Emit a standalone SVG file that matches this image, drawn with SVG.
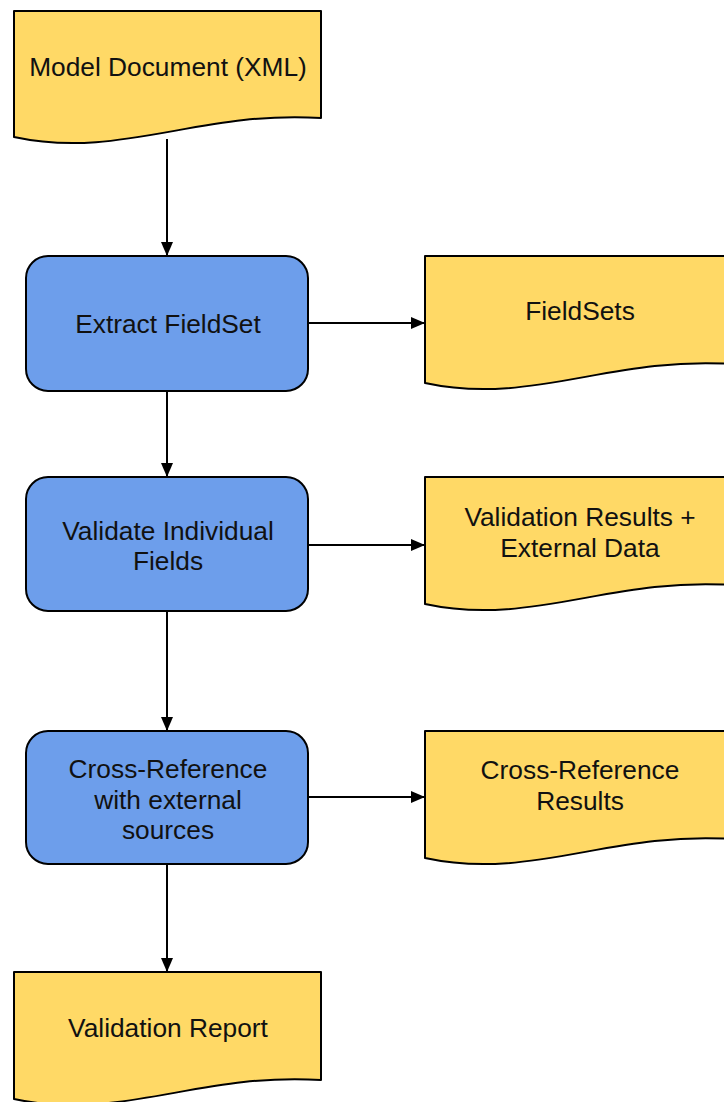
<svg xmlns="http://www.w3.org/2000/svg" width="724" height="1102" viewBox="0 0 724 1102">
  <style>
    .doc { fill: #ffd966; stroke: #000; stroke-width: 2; stroke-linejoin: round; }
    .proc { fill: #6d9eeb; stroke: #000; stroke-width: 2; }
    .label { font-family: "Liberation Sans", Arial, sans-serif; font-size: 26.3px; fill: #111; text-anchor: middle; }
    .edge { stroke: #000; stroke-width: 2; fill: none; marker-end: url(#arrow); }
  </style>
  <defs>
    <marker id="arrow" viewBox="0 0 14 12" refX="14" refY="6" markerWidth="14" markerHeight="12" markerUnits="userSpaceOnUse" orient="auto">
      <path d="M0,0 L14,6 L0,12 Z" fill="#000"/>
    </marker>
  </defs>
  <rect width="724" height="1102" fill="#fff"/>

  <g id="connectors">
    <line class="edge" x1="167" y1="139" x2="167" y2="256"/>
    <line class="edge" x1="167" y1="391" x2="167" y2="477"/>
    <line class="edge" x1="167" y1="611" x2="167" y2="731"/>
    <line class="edge" x1="167" y1="864" x2="167" y2="972"/>
    <line class="edge" x1="308" y1="323" x2="425" y2="323"/>
    <line class="edge" x1="308" y1="545" x2="425" y2="545"/>
    <line class="edge" x1="308" y1="797" x2="425" y2="797"/>
  </g>

  <g id="model-document">
    <path class="doc" d="M14,11 H321 V118 C200,110 120,160 14,137 Z"/>
    <text class="label" x="168" y="76">Model Document (XML)</text>
  </g>

  <g id="extract-fieldset">
    <rect class="proc" x="26" y="256" width="282" height="135" rx="22"/>
    <text class="label" x="168" y="333">Extract FieldSet</text>
  </g>

  <g id="fieldsets">
    <path class="doc" d="M425,256 H732 V364 C611,356 531,406 425,383 Z"/>
    <text class="label" x="580" y="320">FieldSets</text>
  </g>

  <g id="validate-fields">
    <rect class="proc" x="26" y="477" width="282" height="134" rx="22"/>
    <text class="label" x="168" y="540">Validate Individual</text>
    <text class="label" x="168" y="570">Fields</text>
  </g>

  <g id="validation-results">
    <path class="doc" d="M425,477 H732 V585 C611,577 531,627 425,604 Z"/>
    <text class="label" x="580" y="526">Validation Results +</text>
    <text class="label" x="580" y="557">External Data</text>
  </g>

  <g id="cross-reference">
    <rect class="proc" x="26" y="731" width="282" height="133" rx="22"/>
    <text class="label" x="168" y="778">Cross-Reference</text>
    <text class="label" x="168" y="809">with external</text>
    <text class="label" x="168" y="839">sources</text>
  </g>

  <g id="cross-reference-results">
    <path class="doc" d="M425,731 H732 V839 C611,831 531,881 425,858 Z"/>
    <text class="label" x="580" y="779">Cross-Reference</text>
    <text class="label" x="580" y="810">Results</text>
  </g>

  <g id="validation-report">
    <path class="doc" d="M14,972 H321 V1080 C200,1072 120,1122 14,1099 Z"/>
    <text class="label" x="168" y="1037">Validation Report</text>
  </g>
</svg>
